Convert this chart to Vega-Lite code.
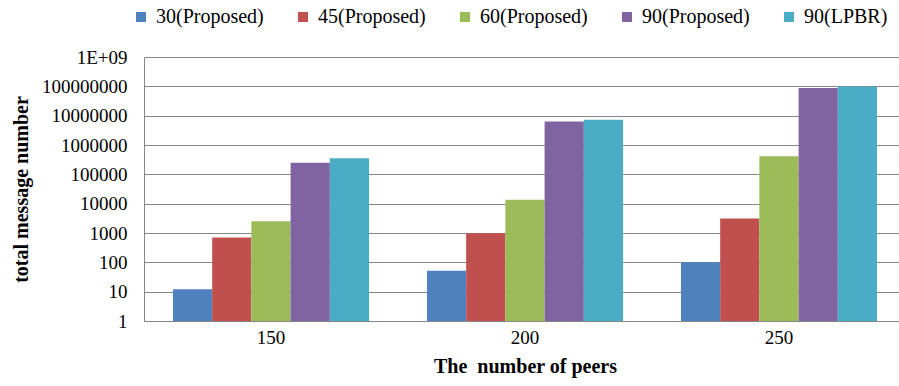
{
  "$schema": "https://vega.github.io/schema/vega-lite/v6.json",
  "autosize": "none",
  "width": 762,
  "height": 264,
  "padding": {"left": 144, "top": 57, "right": 0, "bottom": 65},
  "background": "white",
  "config": {
    "font": "Liberation Serif, Times New Roman, serif",
    "view": {"stroke": null},
    "style": {
      "guide-label": {"font": "Liberation Serif, Times New Roman, serif", "fill": "black"},
      "guide-title": {"font": "Liberation Serif, Times New Roman, serif"}
    }
  },
  "data": {
    "values": [
      {"peers": "150", "series": "30(Proposed)", "value": 12},
      {"peers": "150", "series": "45(Proposed)", "value": 700},
      {"peers": "150", "series": "60(Proposed)", "value": 2500},
      {"peers": "150", "series": "90(Proposed)", "value": 250000},
      {"peers": "150", "series": "90(LPBR)", "value": 350000},
      {"peers": "200", "series": "30(Proposed)", "value": 52},
      {"peers": "200", "series": "45(Proposed)", "value": 980},
      {"peers": "200", "series": "60(Proposed)", "value": 13700},
      {"peers": "200", "series": "90(Proposed)", "value": 6300000},
      {"peers": "200", "series": "90(LPBR)", "value": 7200000},
      {"peers": "250", "series": "30(Proposed)", "value": 100},
      {"peers": "250", "series": "45(Proposed)", "value": 3100},
      {"peers": "250", "series": "60(Proposed)", "value": 415000},
      {"peers": "250", "series": "90(Proposed)", "value": 87000000},
      {"peers": "250", "series": "90(LPBR)", "value": 98000000}
    ]
  },
  "mark": {"type": "bar"},
  "encoding": {
    "x": {
      "field": "peers",
      "type": "nominal",
      "sort": null,
      "scale": {"paddingInner": 0.228, "paddingOuter": 0.114},
      "axis": {
        "title": "The\u00a0 number of peers",
        "titleFont": "Liberation Serif, Times New Roman, serif",
        "titleFontSize": 20,
        "titleFontWeight": "bold",
        "titleColor": "black",
        "titlePadding": 9,
        "labelAngle": 0,
        "labelFont": "Liberation Serif, Times New Roman, serif",
        "labelFontSize": 19,
        "labelColor": "black",
        "labelPadding": 7,
        "ticks": false,
        "domainColor": "#868686",
        "domainWidth": 1
      }
    },
    "xOffset": {
      "field": "series",
      "type": "nominal",
      "sort": ["30(Proposed)", "45(Proposed)", "60(Proposed)", "90(Proposed)", "90(LPBR)"]
    },
    "y": {
      "field": "value",
      "type": "quantitative",
      "stack": null,
      "scale": {"type": "log", "domain": [1, 1000000000], "nice": false},
      "axis": {
        "title": "total message number",
        "titleFont": "Liberation Serif, Times New Roman, serif",
        "titleFontSize": 20,
        "titleFontWeight": "bold",
        "titleColor": "black",
        "titlePadding": 10,
        "values": [1, 10, 100, 1000, 10000, 100000, 1000000, 10000000, 100000000, 1000000000],
        "labelExpr": "datum.value >= 1e9 ? '1E+09' : format(datum.value, 'd')",
        "labelFont": "Liberation Serif, Times New Roman, serif",
        "labelFontSize": 19,
        "labelColor": "black",
        "labelPadding": 17,
        "ticks": false,
        "grid": true,
        "gridColor": "#868686",
        "gridWidth": 1,
        "domainColor": "#868686",
        "domainWidth": 1
      }
    },
    "y2": {"datum": 1},
    "color": {
      "field": "series",
      "type": "nominal",
      "scale": {
        "domain": ["30(Proposed)", "45(Proposed)", "60(Proposed)", "90(Proposed)", "90(LPBR)"],
        "range": ["#4F81BD", "#C0504D", "#9BBB59", "#8064A2", "#4BACC6"]
      },
      "legend": {
        "title": null,
        "orient": "none",
        "direction": "horizontal",
        "legendX": -13,
        "legendY": -50,
        "symbolType": "square",
        "symbolSize": 100,
        "symbolStrokeWidth": 0,
        "labelFont": "Liberation Serif, Times New Roman, serif",
        "labelFontSize": 20,
        "labelColor": "black",
        "labelOffset": 5,
        "columnPadding": 29
      }
    }
  }
}
